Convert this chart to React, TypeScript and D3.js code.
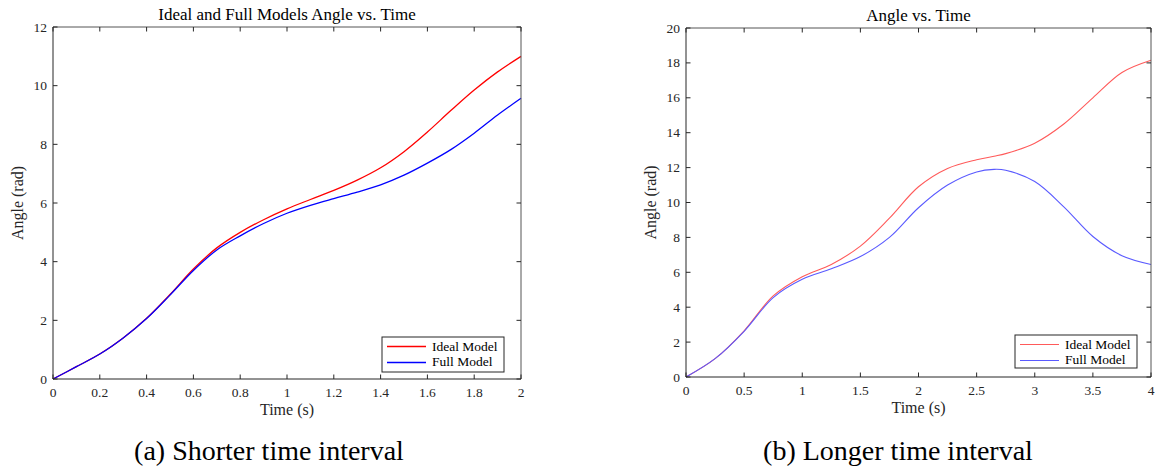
import React from "react";
import * as d3 from "d3";

// ---- Data ----
const timeA = [0, 0.1, 0.2, 0.3, 0.4, 0.5, 0.6, 0.7, 0.8, 0.9, 1.0, 1.1, 1.2, 1.3, 1.4, 1.5, 1.6, 1.7, 1.8, 1.9, 2.0];
const idealA = [0, 0.42, 0.85, 1.4, 2.07, 2.88, 3.75, 4.47, 5.0, 5.43, 5.8, 6.12, 6.43, 6.78, 7.2, 7.75, 8.42, 9.15, 9.85, 10.47, 11.0];
const fullA = [0, 0.42, 0.85, 1.4, 2.06, 2.86, 3.7, 4.4, 4.88, 5.3, 5.65, 5.92, 6.15, 6.37, 6.62, 6.95, 7.36, 7.82, 8.38, 9.0, 9.57];

const timeB = [0, 0.25, 0.5, 0.75, 1.0, 1.25, 1.5, 1.75, 2.0, 2.25, 2.5, 2.65, 2.75, 3.0, 3.25, 3.5, 3.75, 4.0];
const idealB = [0, 1.05, 2.65, 4.65, 5.75, 6.45, 7.5, 9.1, 10.9, 11.95, 12.45, 12.65, 12.8, 13.4, 14.5, 16.0, 17.45, 18.15];
const fullB = [0, 1.05, 2.62, 4.55, 5.6, 6.2, 6.9, 8.0, 9.7, 11.0, 11.75, 11.9, 11.85, 11.2, 9.75, 8.05, 6.95, 6.45];

const ticksXA = [0, 0.2, 0.4, 0.6, 0.8, 1, 1.2, 1.4, 1.6, 1.8, 2];
const ticksYA = [0, 2, 4, 6, 8, 10, 12];
const ticksXB = [0, 0.5, 1, 1.5, 2, 2.5, 3, 3.5, 4];
const ticksYB = [0, 2, 4, 6, 8, 10, 12, 14, 16, 18, 20];

const seriesNames = ["Ideal Model", "Full Model"];

const FONT = "'Liberation Serif', 'Times New Roman', serif";
const AX = "#262626";

type PanelProps = {
  left: number; right: number; top: number; bottom: number;
  xMax: number; yMax: number;
  xTicks: number[]; yTicks: number[];
  t: number[]; a: number[]; b: number[];
  title: string; colors: string[]; lw: number;
  legend: { x0: number; y0: number; w: number; h: number };
  caption: string; captionX: number;
};

function Panel(p: PanelProps) {
  const x = d3.scaleLinear().domain([0, p.xMax]).range([p.left, p.right]);
  const y = d3.scaleLinear().domain([0, p.yMax]).range([p.bottom, p.top]);
  const line = d3.line<number>()
    .x((_, i) => x(p.t[i]))
    .y((d) => y(d))
    .curve(d3.curveCatmullRom.alpha(0.5));
  const tl = 4.5;
  const cx = (p.left + p.right) / 2;
  const cy = (p.top + p.bottom) / 2;
  const { x0, y0, w, h } = p.legend;
  return (
    <g fontFamily={FONT}>
      <path d={line(p.a) || ""} fill="none" stroke={p.colors[0]} strokeWidth={p.lw} />
      <path d={line(p.b) || ""} fill="none" stroke={p.colors[1]} strokeWidth={p.lw} />
      <line x1={p.left} x2={p.right} y1={p.top} y2={p.top} stroke="#555" strokeWidth={1} />
      <line x1={p.right} x2={p.right} y1={p.top} y2={p.bottom} stroke="#555" strokeWidth={1} />
      <line x1={p.left} x2={p.right} y1={p.bottom} y2={p.bottom} stroke={AX} strokeWidth={1} />
      <line x1={p.left} x2={p.left} y1={p.top} y2={p.bottom} stroke={AX} strokeWidth={1} />
      {p.xTicks.map((v) => (
        <g key={"x" + v}>
          <line x1={x(v)} x2={x(v)} y1={p.bottom} y2={p.bottom - tl} stroke={AX} />
          <line x1={x(v)} x2={x(v)} y1={p.top} y2={p.top + tl} stroke={AX} />
          <text x={x(v)} y={p.bottom + 18} textAnchor="middle" fontSize={13.5} fill={AX}>{v}</text>
        </g>
      ))}
      {p.yTicks.map((v) => (
        <g key={"y" + v}>
          <line x1={p.left} x2={p.left + tl} y1={y(v)} y2={y(v)} stroke={AX} />
          <line x1={p.right} x2={p.right - tl} y1={y(v)} y2={y(v)} stroke={AX} />
          <text x={p.left - 6} y={y(v) + 4.5} textAnchor="end" fontSize={13.5} fill={AX}>{v}</text>
        </g>
      ))}
      <text x={cx} y={p.top - 7} textAnchor="middle" fontSize={17} fill="#000">{p.title}</text>
      <text x={cx} y={p.bottom + 36} textAnchor="middle" fontSize={16} fill={AX}>Time (s)</text>
      <text transform={`translate(${p.left - 30},${cy}) rotate(-90)`} textAnchor="middle" fontSize={16} fill={AX}>Angle (rad)</text>
      <rect x={x0} y={y0} width={w} height={h} fill="#fff" stroke={AX} strokeWidth={1} />
      {seriesNames.map((n, i) => (
        <g key={n}>
          <line x1={x0 + 5} x2={x0 + 44} y1={Math.round(y0 + 9 + i * 15.5) + 0.5} y2={Math.round(y0 + 9 + i * 15.5) + 0.5}
            stroke={p.colors[i]} strokeWidth={p.lw} />
          <text x={x0 + 50} y={y0 + 13.5 + i * 15.5} fontSize={13.5} fill="#000">{n}</text>
        </g>
      ))}
      <text x={p.captionX} y={460} textAnchor="middle" fontSize={28} fill="#000">{p.caption}</text>
    </g>
  );
}

export default function App() {
  return (
    <svg width={1156} height={469} style={{ display: "block", position: "absolute", left: 0, top: 0, background: "#fff" }}>
      <rect width={1156} height={469} fill="#fff" />
      <Panel left={53} right={521} top={27} bottom={379} xMax={2} yMax={12}
        xTicks={ticksXA} yTicks={ticksYA} t={timeA} a={idealA} b={fullA}
        title="Ideal and Full Models Angle vs. Time" colors={["#ff0000", "#0000ff"]} lw={1.3}
        legend={{ x0: 382, y0: 337, w: 122, h: 35 }}
        caption="(a) Shorter time interval" captionX={269} />
      <Panel left={686} right={1151} top={28} bottom={377} xMax={4} yMax={20}
        xTicks={ticksXB} yTicks={ticksYB} t={timeB} a={idealB} b={fullB}
        title="Angle vs. Time" colors={["#ff5a5a", "#5a5aff"]} lw={1.1}
        legend={{ x0: 1015, y0: 335, w: 122, h: 33 }}
        caption="(b) Longer time interval" captionX={898} />
    </svg>
  );
}
